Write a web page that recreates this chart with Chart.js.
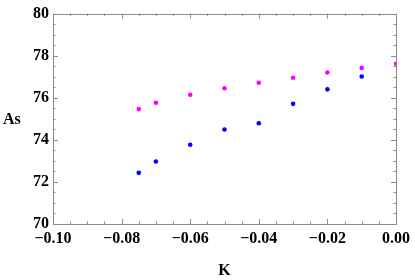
<!DOCTYPE html>
<html><head><meta charset="utf-8">
<script src="https://cdn.jsdelivr.net/npm/chart.js@4/dist/chart.umd.min.js"></script>
<style>html,body{margin:0;padding:0;background:#fff}#wrap{width:415px;height:280px}</style>
</head><body><div id="wrap"><canvas id="c" width="415" height="280"></canvas></div>
<script>
const kMagenta = [-0.075, -0.07, -0.06, -0.05, -0.04, -0.03, -0.02, -0.01, 0.0];
const asMagenta = [75.46, 75.76, 76.14, 76.45, 76.71, 76.95, 77.20, 77.42, 77.62];
const kBlue = [-0.075, -0.07, -0.06, -0.05, -0.04, -0.03, -0.02, -0.01];
const asBlue = [72.43, 72.97, 73.77, 74.49, 74.79, 75.71, 76.40, 77.01];
const xTicks = [-0.10, -0.08, -0.06, -0.04, -0.02, 0.00];
const yTicks = [70, 72, 74, 76, 78, 80];
const xLabel = 'K';
const yLabel = 'As';

const FONT = '"Liberation Serif", "DejaVu Serif", serif';
const toPts = (xs, ys) => xs.map((x, i) => ({x: x, y: ys[i]}));
const fmtX = v => { const s = Math.abs(v).toFixed(2); return (v < -1e-9 ? '\u2212' : '') + s; };

const framePlugin = {
  id: 'frame',
  afterDatasetsDraw(chart) {
    const {ctx, chartArea: a, scales: {x, y}} = chart;
    ctx.save();
    ctx.strokeStyle = '#8c8c8c';
    ctx.lineWidth = 1;
    ctx.strokeRect(Math.round(a.left) + 0.5, Math.round(a.top) + 0.5, Math.round(a.right - a.left), Math.round(a.bottom - a.top));
    ctx.beginPath();
    for (let i = 0; i <= 20; i++) {
      const v = -0.10 + i * 0.005;
      const px = Math.round(x.getPixelForValue(v)) + 0.5;
      const L = (i % 4 === 0) ? 5 : 2.5;
      ctx.moveTo(px, a.bottom); ctx.lineTo(px, a.bottom - L);
      ctx.moveTo(px, a.top); ctx.lineTo(px, a.top + L);
    }
    for (let i = 0; i <= 20; i++) {
      const v = 70 + i * 0.5;
      const py = Math.round(y.getPixelForValue(v)) + 0.5;
      const L = (i % 4 === 0) ? 5 : 2.5;
      ctx.moveTo(a.left, py); ctx.lineTo(a.left + L, py);
      ctx.moveTo(a.right, py); ctx.lineTo(a.right - L, py);
    }
    ctx.stroke();
    ctx.fillStyle = '#000';
    ctx.font = 'bold 16px ' + FONT;
    ctx.textAlign = 'left';
    ctx.textBaseline = 'middle';
    ctx.fillText(yLabel, 3, (a.top + a.bottom) / 2 + 1);
    ctx.restore();
  }
};

new Chart(document.getElementById('c'), {
  type: 'scatter',
  data: {
    datasets: [
      {data: toPts(kMagenta, asMagenta), backgroundColor: '#ff00ff', borderColor: '#ff00ff', pointRadius: 2.3, borderWidth: 0},
      {data: toPts(kBlue, asBlue), backgroundColor: '#0000ff', borderColor: '#0000ff', pointRadius: 2.3, borderWidth: 0}
    ]
  },
  options: {
    responsive: false,
    animation: false,
    events: [],
    layout: {padding: {left: 0, right: 19, top: 11, bottom: 0}},
    plugins: {legend: {display: false}, tooltip: {enabled: false}},
    scales: {
      x: {
        type: 'linear', min: -0.10, max: 0.0,
        afterBuildTicks: s => { s.ticks = xTicks.map(v => ({value: v})); },
        afterFit: s => { s.height = 56; },
        grid: {display: false, drawTicks: false},
        border: {display: false},
        ticks: {padding: 5, color: '#000', font: {family: FONT, size: 16, weight: 'bold'}, callback: v => fmtX(v), maxRotation: 0, autoSkip: false},
        title: {display: true, text: xLabel, color: '#000', font: {family: FONT, size: 16, weight: 'bold'}, padding: {top: 10, bottom: 0}}
      },
      y: {
        type: 'linear', min: 70, max: 80,
        afterBuildTicks: s => { s.ticks = yTicks.map(v => ({value: v})); },
        afterFit: s => { s.width = 53; },
        grid: {display: false, drawTicks: false},
        border: {display: false},
        ticks: {padding: 4, color: '#000', font: {family: FONT, size: 16, weight: 'bold'}, autoSkip: false},
        title: {display: false}
      }
    }
  },
  plugins: [framePlugin]
});
</script></body></html>
